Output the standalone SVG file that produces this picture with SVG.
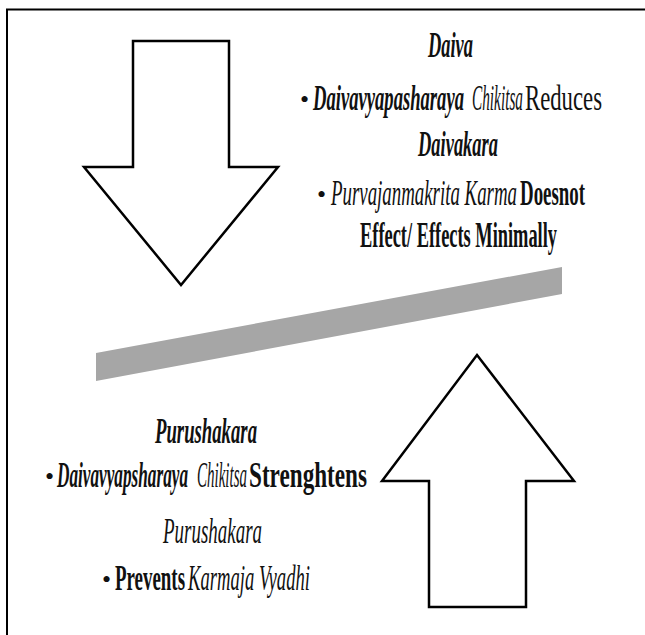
<svg xmlns="http://www.w3.org/2000/svg" width="645" height="635" viewBox="0 0 645 635">
  <style>
    text { font-family: 'Liberation Serif', 'DejaVu Serif', serif; font-size: 36px; fill: #111; }
    .b { font-weight: bold; }
    .i { font-style: italic; }
    .dot { font-size: 26px; }
    .arrow { fill: #fff; stroke: #000; stroke-width: 2.5; stroke-linejoin: miter; }
    .frame { fill: none; stroke: #000; stroke-width: 2; }
  </style>
  <rect x="0" y="0" width="645" height="635" fill="#fff"/>
  <!-- slide frame: top and left edges -->
  <path class="frame" d="M7,635 V9.5 H645"/>

  <!-- downward arrow (Daiva) -->
  <g id="arrow-down">
    <polygon class="arrow" points="133,41 229,41 229,167 278,167 181,285 84,167 133,167"/>
  </g>

  <!-- upward arrow (Purushakara) -->
  <g id="arrow-up">
    <polygon class="arrow" points="477,355 574,481 526,481 526,607 429,607 429,481 382,481"/>
  </g>

  <!-- tilted balance bar -->
  <g id="balance-bar">
    <polygon points="96,353 562,267 562,294 96,381" fill="#a6a6a6"/>
  </g>

  <!-- Daiva text block -->
  <g id="daiva-text">
    <text class="b i" x="428" y="57" textLength="45" lengthAdjust="spacingAndGlyphs">Daiva</text>
    <text class="dot" x="300" y="108">•</text>
    <text class="b i" x="313" y="110" textLength="151" lengthAdjust="spacingAndGlyphs">Daivavyapasharaya</text>
    <text class="i" x="472" y="110" textLength="51" lengthAdjust="spacingAndGlyphs">Chikitsa</text>
    <text x="525" y="110" textLength="77" lengthAdjust="spacingAndGlyphs">Reduces</text>
    <text class="b i" x="418" y="156" textLength="80" lengthAdjust="spacingAndGlyphs">Daivakara</text>
    <text class="dot" x="317" y="203">•</text>
    <text class="i" x="331" y="205" textLength="186" lengthAdjust="spacingAndGlyphs">Purvajanmakrita Karma</text>
    <text class="b" x="520" y="205" textLength="65" lengthAdjust="spacingAndGlyphs">Doesnot</text>
    <text class="b" x="360" y="247" textLength="197" lengthAdjust="spacingAndGlyphs">Effect/ Effects Minimally</text>
  </g>

  <!-- Purushakara text block -->
  <g id="purushakara-text">
    <text class="b i" x="155" y="443" textLength="102" lengthAdjust="spacingAndGlyphs">Purushakara</text>
    <text class="dot" x="45" y="485">•</text>
    <text class="b i" x="57" y="487" textLength="131" lengthAdjust="spacingAndGlyphs">Daivavyapsharaya</text>
    <text class="i" x="197" y="487" textLength="50" lengthAdjust="spacingAndGlyphs">Chikitsa</text>
    <text class="b" x="249" y="487" textLength="118" lengthAdjust="spacingAndGlyphs">Strenghtens</text>
    <text class="i" x="163" y="543" textLength="99" lengthAdjust="spacingAndGlyphs">Purushakara</text>
    <text class="dot" x="102" y="588">•</text>
    <text class="b" x="115" y="590" textLength="70" lengthAdjust="spacingAndGlyphs">Prevents</text>
    <text class="i" x="188" y="590" textLength="122" lengthAdjust="spacingAndGlyphs">Karmaja Vyadhi</text>
  </g>
</svg>
